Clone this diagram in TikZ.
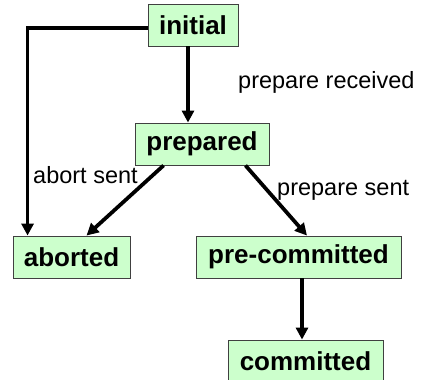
\documentclass[tikz,border=0pt]{standalone}
\usepackage{fontspec}
\setmainfont{Liberation Sans}
\usetikzlibrary{arrows.meta}
\definecolor{statefill}{RGB}{204,255,204}
\definecolor{stateline}{RGB}{64,64,64}
\tikzset{
  state/.style={draw=stateline, line width=0.9pt, fill=statefill, inner sep=0pt,
    minimum height=42pt, font=\fontsize{26}{30}\selectfont\bfseries},
  trans/.style={line width=3.75pt, -{Triangle[length=12pt,width=12pt]}},
  tlabel/.style={anchor=base west, inner sep=0pt, font=\fontsize{23.5}{28}\selectfont}
}
\begin{document}
\begin{tikzpicture}[x=1pt,y=-1pt]
\useasboundingbox (0,0) rectangle (423,380);
\begin{scope}
\clip (0,0) rectangle (423,380);
% states
\node[state, minimum width=90pt]  (initial)  at (193,25)    {initial};
\node[state, minimum width=134pt] (prepared) at (202,144)   {prepared};
\node[state, minimum width=117pt] (aborted)  at (71.5,257)  {aborted};
\node[state, minimum width=205pt] (precomm)  at (298.5,257) {pre-committed};
\node[state, minimum width=155pt] (comm)     at (305.5,361) {committed};

% transitions
\draw[trans] ([xshift=-5pt]initial.south) -- ([xshift=-5pt]initial.south |- prepared.north);
\draw[trans] ([yshift=-3pt]initial.west) -| ([xshift=15pt]aborted.north west);
\draw[trans] ([xshift=29pt]prepared.south west) -- ([xshift=15pt]aborted.north);
\draw[trans] ([xshift=-24pt]prepared.south east) -- ([xshift=8.5pt]precomm.north);
\draw[trans] ([xshift=-3.5pt]comm.north |- precomm.south) -- ([xshift=-3.5pt]comm.north);

% transition labels
\node[tlabel] (lrecv)  at (238,88)  {prepare received};
\node[tlabel] (labort) at (33,183)  {abort sent};
\node[tlabel] (lsent)  at (277,195) {prepare sent};
\end{scope}
\end{tikzpicture}
\end{document}
